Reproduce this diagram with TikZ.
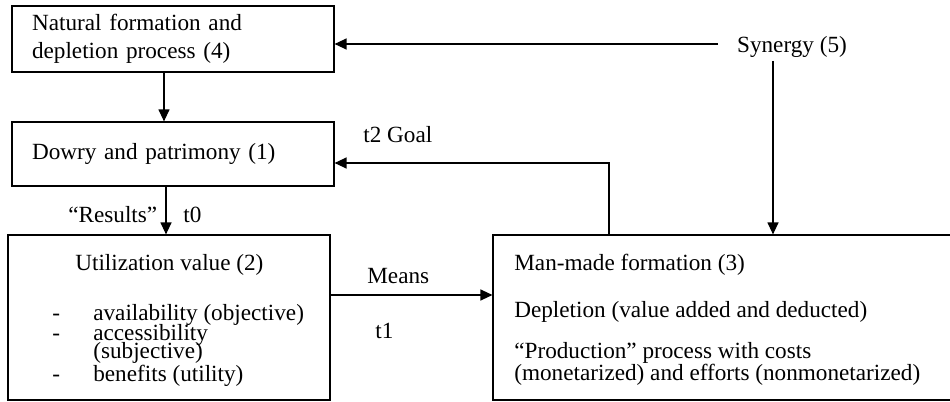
\documentclass[tikz,border=0pt]{standalone}
\usepackage{fontspec}
\setmainfont{Liberation Serif}
\usetikzlibrary{arrows.meta}

\begin{document}
\begin{tikzpicture}
        [x=0.02cm, y=-0.02cm, every node/.style={font=\fontsize{13.2}{16}\selectfont},
        box/.style={draw, line width=0.7pt, inner sep=0, minimum height=1.3cm},
        txt/.style={anchor=base west, inner sep=0},
        arr/.style={line width=0.7pt, -{Triangle[length=0.24cm, width=0.22cm]}}]

        \useasboundingbox (0,0) rectangle (950,402);
        \clip (0,0) rectangle (950,402);

        % boxes
        \node[box, minimum width=6.44cm, minimum height=1.32cm, text width=5.64cm, align=left, inner xsep=0.4cm] (nat) at (173,39) {Natural formation and\\depletion process (4)};
        \node[box, minimum width=6.44cm, minimum height=1.28cm, text width=5.64cm, align=left, inner xsep=0.4cm] (dowry) at (173,154) {Dowry and patrimony (1)};
        \node[box, minimum width=6.44cm, minimum height=3.3cm] (util) at (169,317.5) {};
        \node[box, minimum width=10.14cm, minimum height=3.3cm] (man) at (746.5,317.5) {};
        \node[inner sep=0] (syn) at (792,47) {Synergy (5)};

        % texts of box 2 and box 3
        \node[txt] (u0) at (75,270) {Utilization value (2)};
        \node[txt] (u1d) at (52,320) {-};
        \node[txt] (u1) at (93,320) {availability (objective)};
        \node[txt] (u2d) at (52,340) {-};
        \node[txt] (u2) at (93,340) {accessibility};
        \node[txt] (u3) at (93,358) {(subjective)};
        \node[txt] (u4d) at (52,381) {-};
        \node[txt] (u4) at (93,381) {benefits (utility)};

        \node[txt] (m0) at (514,270) {Man-made formation (3)};
        \node[txt] (m1) at (514,317) {Depletion (value added and deducted)};
        \node[txt] (m2) at (514,358) {``Production'' process with costs};
        \node[txt] (m3) at (514,380) {(monetarized) and efforts (nonmonetarized)};

        % labels
        \node[txt] (goal) at (363,143) {t2 Goal};
        \node[txt] (res) at (68,222) {``Results''};
        \node[txt] (t0) at (183,222) {t0};
        \node[txt] (means) at (367,283) {Means};
        \node[txt] (t1) at (375,338) {t1};

        % bend points
        \coordinate (c1) at (164,0);
        \coordinate (c2) at (166,0);
        \coordinate (synl) at (718,44);
        \coordinate (synd) at (773,61);
        \coordinate (gl) at (609,163);
        \coordinate (mn) at (410,295);

        \draw[arr] (nat.south -| c1) -- (dowry.north -| c1);
        \draw[arr] (dowry.south -| c2) -- (util.north -| c2);
        \draw[arr] (synl) -- (nat.east |- synl);
        \draw[arr] (synd) -- (man.north -| synd);
        \draw[arr] (man.north -| gl) -- (gl) -- (dowry.east |- gl);
        \draw[arr] (util.east |- mn) -- (man.west |- mn);

      \end{tikzpicture}
\end{document}
